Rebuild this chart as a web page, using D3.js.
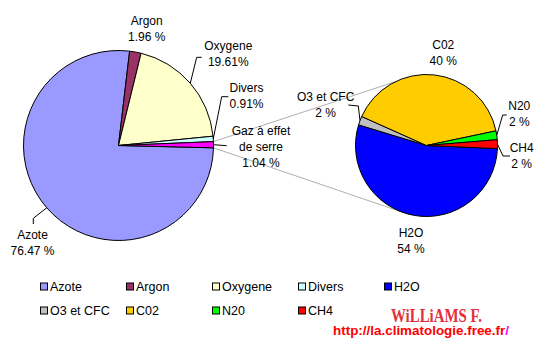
<!DOCTYPE html>
<html>
<head>
<meta charset="utf-8">
<script src="https://cdn.jsdelivr.net/npm/d3@7/dist/d3.min.js"></script>
<style>
  html, body { margin: 0; padding: 0; background: #fff; }
  svg { display: block; }
  text { font-family: "Liberation Sans", Arial, sans-serif; font-size: 12px; fill: #000; }
</style>
</head>
<body>
<svg id="chart" width="542" height="351"></svg>
<script>
// ---- DATA ----
const leftNames = ["Azote", "Argon", "Oxygene", "Divers", "Gaz à effet de serre"];
const leftValues = [76.47, 1.96, 19.61, 0.91, 1.04];
const leftLabels = [["Azote", "76.47 %"], ["Argon", "1.96 %"], ["Oxygene", "19.61%"], ["Divers", "0.91%"], ["Gaz à effet", "de serre", "1.04 %"]];

const rightNames = ["H2O", "O3 et CFC", "C02", "N20", "CH4"];
const rightValues = [54, 2, 40, 2, 2];
const rightLabels = [["H2O", "54 %"], ["O3 et CFC", "2 %"], ["C02", "40 %"], ["N20", "2 %"], ["CH4", "2 %"]];

const legendNames = ["Azote", "Argon", "Oxygene", "Divers", "H2O", "O3 et CFC", "C02", "N20", "CH4"];

// ---- STYLE / LAYOUT ----
const colors = {
  "Azote": "#9999FF", "Argon": "#993366", "Oxygene": "#FFFFCC", "Divers": "#CCFFFF",
  "Gaz à effet de serre": "#FF00FF",
  "H2O": "#0000FF", "O3 et CFC": "#C0C0C0", "C02": "#FFCC00", "N20": "#00FF00", "CH4": "#FF0000"
};
const deg = Math.PI / 180;
const leftPie = { cx: 118.5, cy: 145.5, r: 95, start: 91.4 };
const rightPie = { cx: 426.5, cy: 145.5, r: 71, start: 92.5 };

// label anchors relative to pie centre; leader: [elbow, end] relative to centre
const leftLayout = [
  { lab: [-86, 89.5], leader: [[-85.2, 72.8], [-85.2, 78.5]] },
  { lab: [28.2, -124.8], leader: null },
  { lab: [109.8, -99.8], leader: [[78.2, -88.2], [83.2, -88.2]] },
  { lab: [128, -57.8], leader: [[103.2, -48.8], [109.8, -48.8]] },
  { lab: [142.5, -14.5], leader: [null, [108.2, 0.2]] }
];
const rightLayout = [
  { lab: [-15.5, 87.2], leader: null },
  { lab: [-100.8, -48.8], leader: [[-68.2, -39.5], [-78.2, -40.5]] },
  { lab: [16.8, -100.5], leader: null },
  { lab: [92.8, -39.5], leader: [[76.2, -30.5], [80.2, -30.5]] },
  { lab: [95.2, 1.8], leader: [[76.5, 10.5], [83.5, 10.5]] }
];
const connectorAngles = [334, 202];

const svg = d3.select("#chart");

function edge(p, a, r) {
  return [p.cx + r * Math.sin(a), p.cy - r * Math.cos(a)];
}

function drawPie(p, names, values) {
  const pie = d3.pie().sort(null).value(d => d)
    .startAngle(p.start * deg).endAngle(p.start * deg + 2 * Math.PI);
  const arcs = pie(values);
  const arc = d3.arc().innerRadius(0).outerRadius(p.r);
  const g = svg.append("g").attr("transform", `translate(${p.cx},${p.cy})`);
  g.selectAll("path").data(arcs).enter().append("path")
    .attr("d", arc)
    .attr("fill", (d, i) => colors[names[i]])
    .attr("stroke", "#000").attr("stroke-width", 1).attr("stroke-linejoin", "round");
  return arcs;
}

function drawLabels(p, arcs, labels, layout) {
  arcs.forEach((a, i) => {
    const L = layout[i];
    if (L.leader) {
      const mid = (a.startAngle + a.endAngle) / 2;
      const pts = [edge(p, mid, p.r)];
      if (L.leader[0]) pts.push([p.cx + L.leader[0][0], p.cy + L.leader[0][1]]);
      pts.push([p.cx + L.leader[1][0], p.cy + L.leader[1][1]]);
      svg.append("path").attr("d", d3.line()(pts))
        .attr("fill", "none").attr("stroke", "#000").attr("stroke-width", 1);
    }
    const t = svg.append("text").attr("text-anchor", "middle");
    labels[i].forEach((s, k) => {
      t.append("tspan").attr("x", p.cx + L.lab[0]).attr("y", p.cy + L.lab[1] + k * 16)
        .attr("dy", "0.36em").text(s);
    });
  });
}

// connector lines between the pies (drawn first, behind)
const lp = d3.pie().sort(null).value(d => d)
  .startAngle(leftPie.start * deg).endAngle(leftPie.start * deg + 2 * Math.PI)(leftValues);
const gaz = lp[lp.length - 1];
const conn = [
  [edge(leftPie, gaz.startAngle, leftPie.r), edge(rightPie, connectorAngles[0] * deg, rightPie.r)],
  [edge(leftPie, gaz.endAngle, leftPie.r), edge(rightPie, connectorAngles[1] * deg, rightPie.r)]
];
conn.forEach(c => svg.append("path").attr("d", d3.line()(c))
  .attr("stroke", "#b0b0b0").attr("stroke-width", 1).attr("fill", "none"));

const leftArcs = drawPie(leftPie, leftNames, leftValues);
const rightArcs = drawPie(rightPie, rightNames, rightValues);
drawLabels(leftPie, leftArcs, leftLabels, leftLayout);
drawLabels(rightPie, rightArcs, rightLabels, rightLayout);

// legend
const legX = d3.scaleLinear().domain([0, 1]).range([40, 126]);
legendNames.forEach((n, i) => {
  const col = i < 5 ? i : i - 5;
  const row = i < 5 ? 0 : 1;
  const x = legX(col), y = 286.5 + row * 24;
  svg.append("rect").attr("x", x + 0.5).attr("y", y - 3.5).attr("width", 7).attr("height", 7)
    .attr("fill", colors[n]).attr("stroke", "#000").attr("stroke-width", 1);
  svg.append("text").attr("x", x + 10).attr("y", y).attr("dy", "0.36em")
    .style("font-size", "12.5px").text(n);
});

// signature
svg.append("text").attr("x", 391).attr("y", 321.5)
  .attr("textLength", 91).attr("lengthAdjust", "spacingAndGlyphs")
  .style("font-family", "'Liberation Serif', 'DejaVu Serif', serif")
  .style("font-weight", "bold").style("font-size", "18px").style("fill", "#e2303c")
  .text("WiLLiAMS F.");
const url = svg.append("text").attr("x", 333).attr("y", 335)
  .attr("textLength", 176).attr("lengthAdjust", "spacingAndGlyphs")
  .style("font-weight", "bold").style("font-size", "12.5px").style("fill", "#ff0000");
url.append("tspan").text("http://la.climatologie.free.fr");
url.append("tspan").style("fill", "#ff00ff").text("/");
</script>
</body>
</html>
